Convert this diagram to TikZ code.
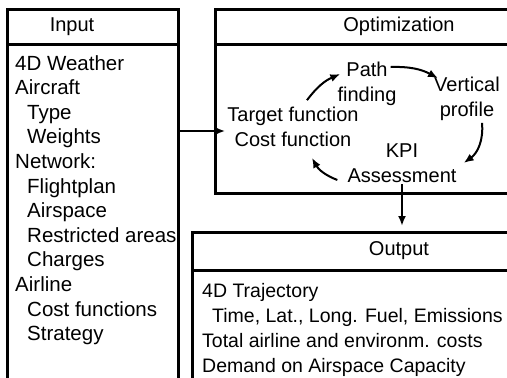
\documentclass[tikz,border=0pt]{standalone}
\usepackage{fontspec}
\setmainfont{Liberation Sans}
\usetikzlibrary{arrows.meta}
\begin{document}
\begin{tikzpicture}[x=1pt,y=-1pt,
    every node/.style={font=\fontsize{20}{24.6}\selectfont},
    panel/.style={draw,line width=3pt,inner sep=0pt,outer sep=0pt},
    item/.style={align=left,inner sep=0pt,anchor=north west},
    stage/.style={align=center,inner sep=2pt},
    flow/.style={-{Latex[length=10pt,width=8pt]},line width=2pt}]
        \clip (0,0) rectangle (507,378);
        % Kaesten, rechts und unten offen
        \node[panel,minimum width=171pt,minimum height=420pt] (input) at (92.5,219) {};
        \node[panel,minimum width=171pt,minimum height=35pt] (inputhead) at (92.5,26.5) {};
        \node[inner sep=0pt] (inputtitle) at (72,27) {Input};
        \node[panel,minimum width=368pt,minimum height=184pt] (optim) at (399,101) {};
        \node[panel,minimum width=368pt,minimum height=35pt] (optimhead) at (399,26.5) {Optimization};
        \node[panel,minimum width=414pt,minimum height=188pt] (output) at (399,326) {};
        \node[panel,minimum width=414pt,minimum height=38pt] (outputhead) at (399,251) {Output};
        % Listen
        \node[item,font=\fontsize{20.5}{24.6}\selectfont] (inputlist) at (15,55) {4D Weather\\Aircraft\\\hspace{12pt}Type\\\hspace{12pt}Weights\\Network:\\\hspace{12pt}Flightplan\\\hspace{12pt}Airspace\\\hspace{12pt}Restricted areas\\\hspace{12pt}Charges\\Airline\\\hspace{12pt}Cost functions\\\hspace{12pt}Strategy};
        \node[item,font=\fontsize{19.5}{25}\selectfont] (outputlist) at (202,283) {4D Trajectory\\\hspace{10pt}Time, Lat., Long. Fuel, Emissions\\Total airline and environm. costs\\Demand on Airspace Capacity};
        % Optimierungszyklus
        \node[stage] (tgt) at (293,127) {Target function\\Cost function};
        \node[stage] (path) at (367,84) {Path\\finding};
        \node[stage] (vert) at (467,99) {Vertical\\profile};
        \node[stage] (kpi) at (402,163) {KPI\\Assessment};
        \draw[flow] ([xshift=14pt,yshift=5pt]tgt.north) to[bend left=15] ([xshift=5pt,yshift=10pt]path.west);
        \draw[flow] ([xshift=-8pt,yshift=17pt]path.east) to[bend left=15] ([xshift=6pt,yshift=-3pt]vert.north west);
        \draw[flow] ([xshift=15pt]vert.south) to[bend left=30] ([xshift=5pt]kpi.east);
        \draw[flow] ([xshift=-8pt,yshift=-17pt]kpi.west) to[bend left=20] ([xshift=19pt,yshift=-9pt]tgt.south);
        % Verbindungen zwischen den Kaesten
        \draw[flow] ([yshift=-4pt]tgt.west -| input.east) -- ([yshift=-4pt]tgt.west);
        \draw[flow,shorten >=6pt] (kpi.south) -- (kpi.south |- outputhead.north);
\end{tikzpicture}
\end{document}
